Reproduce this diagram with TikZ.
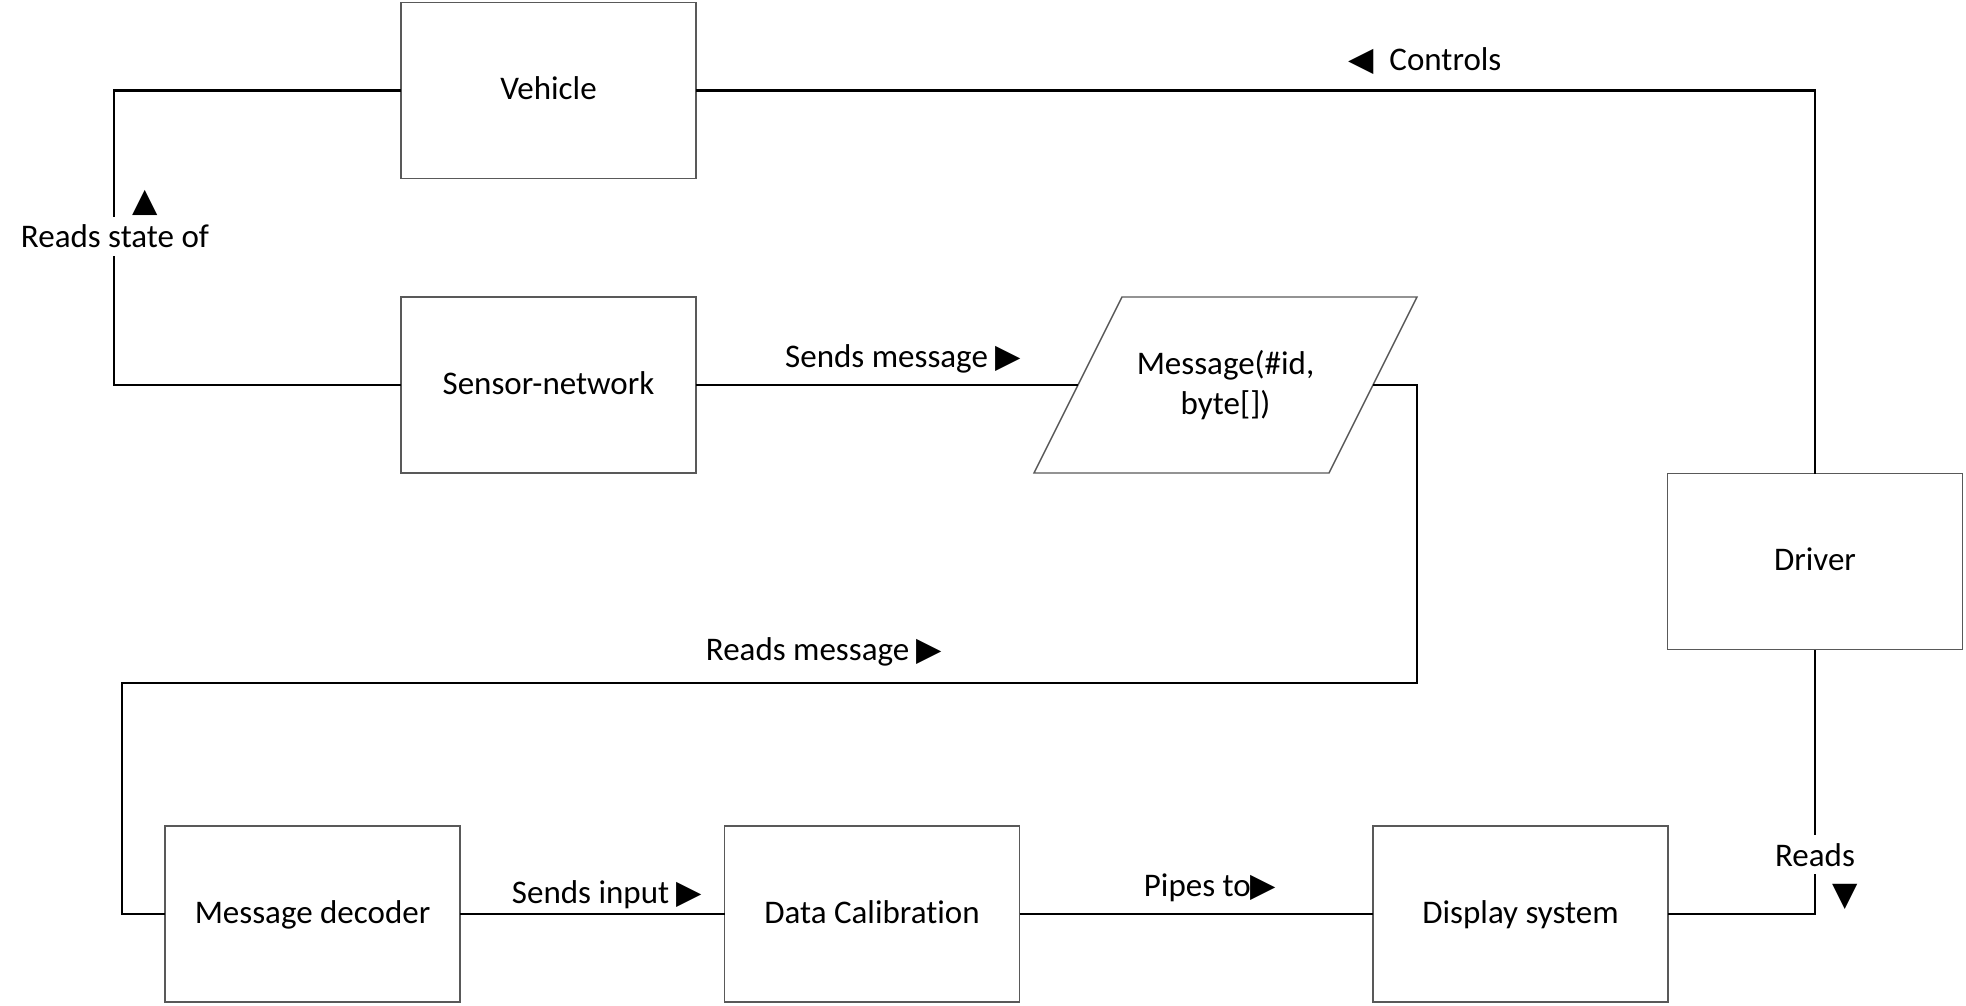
\documentclass[tikz,border=0pt]{standalone}
\usepackage{fontspec}
\setmainfont{Carlito}[Ligatures=NoCommon]
\newfontfamily\symf{DejaVu Sans}
\usetikzlibrary{calc}
% triangle markers set in DejaVu Sans
\newcommand{\trR}{{\symf\fontsize{16.5}{16.5}\selectfont ▶}}
\newcommand{\trL}{{\symf\fontsize{16.5}{16.5}\selectfont ◀}}
\newcommand{\trU}{{\symf\fontsize{16.5}{16.5}\selectfont ▲}}
\newcommand{\trD}{{\symf\fontsize{16.5}{16.5}\selectfont ▼}}
\begin{document}
\begin{tikzpicture}[x=0.5pt,y=-0.5pt,
  every node/.style={font=\fontsize{16.5}{20}\selectfont},
  block/.style={draw=black!65,line width=0.7pt,minimum width=147.5pt,minimum height=88pt,
    inner sep=0pt,outer sep=0pt,text height=0.94em,text depth=0pt},
  conn/.style={line width=1.4pt,black},
  lbl/.style={anchor=base,inner sep=0pt},
  cutlbl/.style={anchor=base,fill=white,inner sep=4pt},
  tri/.style={inner sep=0pt}]
\useasboundingbox (0,0) rectangle (1966,1006);

% blocks
\node[block] (veh) at (548.5,90.5) {Vehicle};
\node[block] (sen) at (548.5,385) {Sensor-network};
\node[inner sep=0pt,outer sep=0pt,minimum width=147.5pt,minimum height=88pt,align=center]
  (msg) at (1225.5,385) {Message(\#id,\\byte[])};
\draw[draw=black!65,line width=0.7pt]
  ($(msg.north west)+(44,0)$) -- ($(msg.north east)+(44,0)$)
  -- ($(msg.south east)+(-44,0)$) -- ($(msg.south west)+(-44,0)$) -- cycle;
\node[block] (drv) at (1815,561.5) {Driver};
\node[block] (dec) at (312.5,914) {Message decoder};
\node[block] (cal) at (872,914) {Data Calibration};
\node[block] (dis) at (1520.5,914) {Display system};

% bend points of the message loop
\coordinate (c1) at (1417,683);
\coordinate (c2) at (122,683);

% connectors
\draw[conn] (veh.west) -- ++(-287,0) |- (sen.west);
\draw[conn] (veh.east) -| (drv.north);
\draw[conn] (sen.east) -- (msg.west);
\draw[conn] (msg.east) -| (c1) -- (c2) |- (dec.west);
\draw[conn] (dec.east) -- (cal.west);
\draw[conn] (cal.east) -- (dis.west);
\draw[conn] (dis.east) -| (drv.south);

% labels
\node[lbl] (lctl) at (1425,71) {\trL\hspace{4pt} Controls};
\node[lbl] (lsm) at (903,367) {Sends message \trR};
\node[lbl] (lrm) at (824,660) {Reads message \trR};
\node[lbl] (lsi) at (607,903) {Sends input \trR};
\node[lbl] (lpt) at (1210,896) {Pipes to\trR};
\node[cutlbl] (lrs) at (115,248) {Reads state of};
\node[tri] (mup) at (145,203) {\trU};
\node[cutlbl] (lrd) at (1815,866) {Reads};
\node[tri] (mdn) at (1845,897) {\trD};
\end{tikzpicture}
\end{document}
